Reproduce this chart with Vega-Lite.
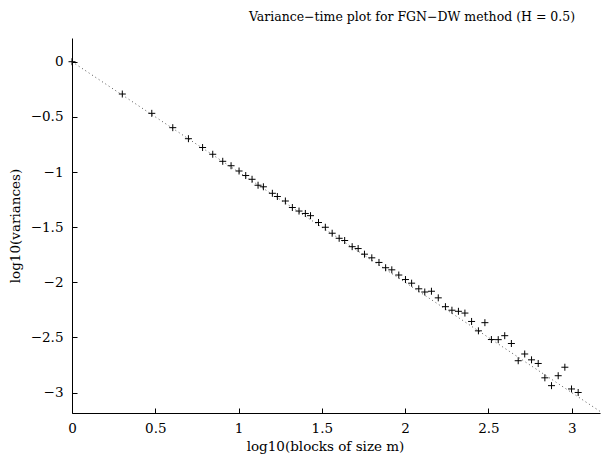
{
  "$schema": "https://vega.github.io/schema/vega-lite/v6.json",
  "width": 528,
  "height": 375,
  "autosize": {"type": "none"},
  "padding": {"left": 72, "top": 38, "right": 1, "bottom": 46},
  "background": "white",
  "config": {"view": {"stroke": null}, "font": "DejaVu Serif"},
  "title": {"text": "Variance−time plot for FGN−DW method (H = 0.5)", "font": "DejaVu Serif", "fontSize": 12.5, "fontWeight": "normal", "color": "black", "anchor": "middle", "dx": 76, "offset": 15},
  "datasets": {
    "points": [
      {"x": 0, "y": 0},
      {"x": 0.302, "y": -0.293},
      {"x": 0.479, "y": -0.468},
      {"x": 0.605, "y": -0.598},
      {"x": 0.699, "y": -0.698},
      {"x": 0.784, "y": -0.778},
      {"x": 0.845, "y": -0.839},
      {"x": 0.905, "y": -0.903},
      {"x": 0.955, "y": -0.943},
      {"x": 1.003, "y": -0.991},
      {"x": 1.043, "y": -1.032},
      {"x": 1.081, "y": -1.066},
      {"x": 1.117, "y": -1.12},
      {"x": 1.149, "y": -1.134},
      {"x": 1.203, "y": -1.193},
      {"x": 1.233, "y": -1.222},
      {"x": 1.281, "y": -1.263},
      {"x": 1.323, "y": -1.322},
      {"x": 1.363, "y": -1.354},
      {"x": 1.401, "y": -1.376},
      {"x": 1.432, "y": -1.396},
      {"x": 1.48, "y": -1.458},
      {"x": 1.521, "y": -1.501},
      {"x": 1.562, "y": -1.555},
      {"x": 1.604, "y": -1.601},
      {"x": 1.637, "y": -1.621},
      {"x": 1.682, "y": -1.677},
      {"x": 1.718, "y": -1.694},
      {"x": 1.756, "y": -1.745},
      {"x": 1.8, "y": -1.778},
      {"x": 1.843, "y": -1.82},
      {"x": 1.883, "y": -1.868},
      {"x": 1.92, "y": -1.887},
      {"x": 1.962, "y": -1.934},
      {"x": 2.002, "y": -1.975},
      {"x": 2.039, "y": -2.008},
      {"x": 2.082, "y": -2.059},
      {"x": 2.118, "y": -2.088},
      {"x": 2.158, "y": -2.081},
      {"x": 2.199, "y": -2.141},
      {"x": 2.242, "y": -2.221},
      {"x": 2.281, "y": -2.253},
      {"x": 2.32, "y": -2.263},
      {"x": 2.359, "y": -2.279},
      {"x": 2.399, "y": -2.355},
      {"x": 2.44, "y": -2.44},
      {"x": 2.479, "y": -2.366},
      {"x": 2.518, "y": -2.519},
      {"x": 2.559, "y": -2.52},
      {"x": 2.598, "y": -2.484},
      {"x": 2.638, "y": -2.555},
      {"x": 2.679, "y": -2.711},
      {"x": 2.718, "y": -2.65},
      {"x": 2.759, "y": -2.703},
      {"x": 2.799, "y": -2.736},
      {"x": 2.839, "y": -2.866},
      {"x": 2.879, "y": -2.937},
      {"x": 2.919, "y": -2.847},
      {"x": 2.959, "y": -2.77},
      {"x": 2.999, "y": -2.967},
      {"x": 3.039, "y": -2.999}
    ],
    "fit": [{"x": 0, "y": 0}, {"x": 3.17, "y": -3.17}]
  },
  "encoding": {
    "x": {"field": "x", "type": "quantitative",
      "scale": {"domain": [0, 3.17], "nice": false, "zero": false},
      "axis": {"values": [0, 0.5, 1, 1.5, 2, 2.5, 3], "format": "~g", "title": "log10(blocks of size m)", "grid": false, "tickSize": -5, "labelPadding": 13, "domainColor": "black", "tickColor": "black", "labelColor": "black", "labelFont": "DejaVu Serif", "titleFont": "DejaVu Serif", "labelFontSize": 13.5, "titleFontSize": 13.5, "titleFontWeight": "normal", "titleColor": "black", "titlePadding": 5, "titleX": 253, "labelFlush": false, "labelOverlap": false}},
    "y": {"field": "y", "type": "quantitative",
      "scale": {"domain": [-3.185, 0.215], "nice": false, "zero": false},
      "axis": {"values": [-3, -2.5, -2, -1.5, -1, -0.5, 0], "format": "~g", "title": "log10(variances)", "grid": false, "tickSize": -5, "labelPadding": 14, "domainColor": "black", "tickColor": "black", "labelColor": "black", "labelFont": "DejaVu Serif", "titleFont": "DejaVu Serif", "labelFontSize": 13.5, "titleFontSize": 13.5, "titleFontWeight": "normal", "titleColor": "black", "titlePadding": 8, "labelFlush": false, "labelOverlap": false}}
  },
  "layer": [
    {"data": {"name": "fit"}, "mark": {"type": "line", "color": "#555555", "strokeWidth": 1, "strokeDash": [1, 3], "clip": true}},
    {"data": {"name": "points"}, "mark": {"type": "point", "shape": "M-1,0L1,0M0,-1L0,1", "size": 49, "stroke": "black", "strokeWidth": 1, "filled": false, "opacity": 1}}
  ]
}
